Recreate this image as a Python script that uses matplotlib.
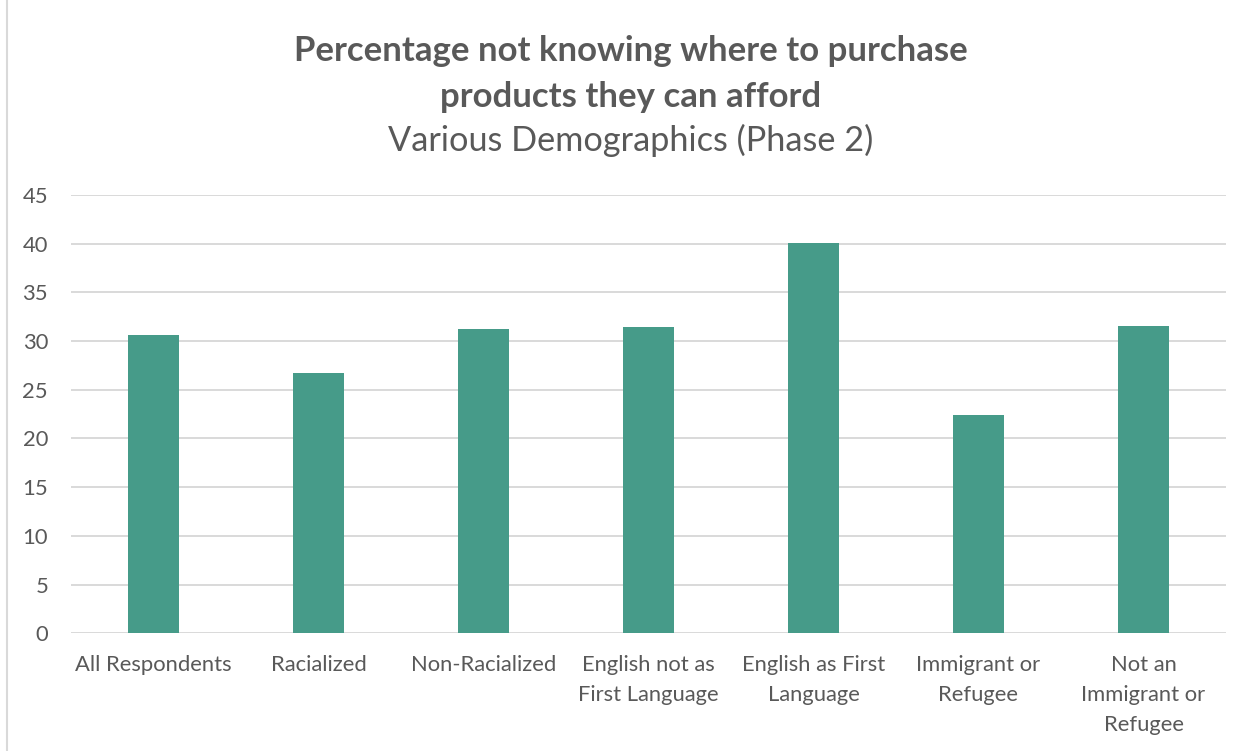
import matplotlib.pyplot as plt
import numpy as np

categories = ['All Respondents', 'Racialized', 'Non-Racialized',
              'English not as\nFirst Language', 'English as First\nLanguage',
              'Immigrant or\nRefugee', 'Not an\nImmigrant or\nRefugee']
values = [30.6, 26.7, 31.2, 31.4, 40.1, 22.4, 31.6]
y_ticks = [0, 5, 10, 15, 20, 25, 30, 35, 40, 45]

text_col = '#595959'
bar_col = '#469B89'
grid_col = '#D9D9D9'
font = ['Lato', 'DejaVu Sans']

W, H = 1253, 751
fig = plt.figure(figsize=(W / 100, H / 100), dpi=100)
fig.patch.set_facecolor('white')

# plot area in pixel coordinates
left, right, top, bottom = 71, 1226, 195, 633.3
ax = fig.add_axes([left / W, 1 - bottom / H, (right - left) / W, (bottom - top) / H])

x = np.arange(len(categories))
ax.bar(x, values, width=0.31, color=bar_col, zorder=3)

ax.set_xlim(-0.5, len(categories) - 0.5)
ax.set_ylim(0, 45)
ax.set_yticks(y_ticks)
ax.set_yticklabels([str(t) for t in y_ticks], family=font, fontsize=15.8, color=text_col)
ax.set_xticks(x)
ax.set_xticklabels(categories, family=font, fontsize=15.8, color=text_col, linespacing=1.64)
ax.tick_params(axis='both', length=0)
ax.tick_params(axis='y', pad=16.5)
ax.tick_params(axis='x', pad=15.5)
ax.yaxis.grid(True, color=grid_col, linewidth=1.4, zorder=0)
for s in ax.spines.values():
    s.set_visible(False)

# titles
fig.text(631 / W, 1 - 51 / H, 'Percentage not knowing where to purchase',
         ha='center', va='center', fontsize=25, fontweight='bold', color=text_col, family=font)
fig.text(631 / W, 1 - 97 / H, 'products they can afford',
         ha='center', va='center', fontsize=25, fontweight='bold', color=text_col, family=font)
fig.text(631 / W, 1 - 140 / H, 'Various Demographics (Phase 2)',
         ha='center', va='center', fontsize=24.7, color=text_col, family=font)

# chart border
fig.add_artist(plt.Line2D([7 / W, 7 / W], [0, 1], color=grid_col, linewidth=1.5))

fig.savefig('out.png', dpi=100, facecolor='white')
